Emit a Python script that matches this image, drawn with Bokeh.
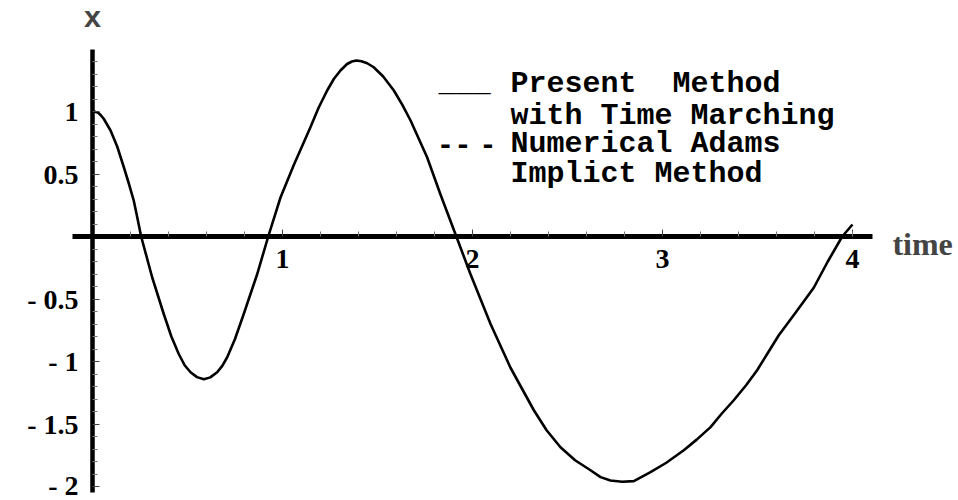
from bokeh.plotting import figure
from bokeh.models import LinearAxis, FixedTicker, Label
from bokeh.core.properties import value
from bokeh.embed import file_html
from bokeh.resources import INLINE

# Displacement x(t) of the oscillator, present method with time marching
time = [0.0, 0.015, 0.03, 0.045, 0.06, 0.095, 0.13, 0.165, 0.19, 0.217, 0.236,
        0.256, 0.314, 0.375, 0.415, 0.454, 0.485, 0.516, 0.55, 0.586, 0.62,
        0.656, 0.683, 0.709, 0.75, 0.796, 0.867, 0.925, 0.989, 1.06, 1.147,
        1.19, 1.235, 1.27, 1.305, 1.34, 1.365, 1.389, 1.415, 1.446, 1.48,
        1.53, 1.586, 1.63, 1.674, 1.761, 1.832, 1.915, 1.989, 2.095, 2.2,
        2.323, 2.39, 2.463, 2.54, 2.621, 2.674, 2.726, 2.788, 2.849, 2.937,
        3.02, 3.112, 3.18, 3.253, 3.31, 3.375, 3.44, 3.498, 3.555, 3.612,
        3.70, 3.796, 3.87, 3.946, 4.0]
x_present = [1.0, 0.997, 0.99, 0.968, 0.94, 0.848, 0.72, 0.554, 0.43, 0.288, 0.15,
             0.0, -0.326, -0.62, -0.80, -0.94, -1.03, -1.086, -1.125, -1.142, -1.127,
             -1.086, -1.035, -0.966, -0.82, -0.62, -0.30, 0.0, 0.31, 0.574, 0.874,
             1.03, 1.168, 1.26, 1.328, 1.38, 1.40, 1.408, 1.402, 1.386, 1.354,
             1.28, 1.168, 1.055, 0.928, 0.634, 0.334, 0.0, -0.30, -0.70, -1.05,
             -1.39, -1.55, -1.686, -1.79, -1.87, -1.925, -1.952, -1.962, -1.957, -1.885,
             -1.81, -1.71, -1.625, -1.525, -1.42, -1.31, -1.19, -1.07, -0.93, -0.79,
             -0.61, -0.41, -0.2, 0.0, 0.096]

# Axis ticks and labels
x_ticks = [1, 2, 3, 4]
x_tick_labels = ["1", "2", "3", "4"]
x_minor = [0.0, 0.2, 0.4, 0.6, 0.8, 1.2, 1.4, 1.6, 1.8, 2.2, 2.4, 2.6, 2.8,
           3.2, 3.4, 3.6, 3.8, 4.0]
y_ticks = [-2.0, -1.5, -1.0, -0.5, 0.5, 1.0]
y_tick_labels = ["- 2", "- 1.5", "- 1", "- 0.5", "0.5", "1"]
y_minor = [-1.9, -1.8, -1.7, -1.6, -1.4, -1.3, -1.2, -1.1, -0.9, -0.8, -0.7,
           -0.6, -0.4, -0.3, -0.2, -0.1, 0.1, 0.2, 0.3, 0.4, 0.6, 0.7, 0.8,
           0.9, 1.1, 1.2, 1.3, 1.4]

# Legend text (double space kept with a no-break space)
legend_lines = ["Present\u00a0 Method", "with Time Marching", "Numerical Adams", "Implict Method"]
legend_y = [1.224, 0.968, 0.744, 0.504]

W, H = 958, 500
X0_PX, SX = 92.0, 190.0      # pixel of t=0, pixels per unit time
Y0_PX, SY = 236.0, 125.0     # pixel of x=0, pixels per unit x

p = figure(width=W, height=H, output_backend="svg", toolbar_location=None,
           x_range=(-X0_PX / SX, (W - X0_PX) / SX),
           y_range=((Y0_PX - H) / SY, Y0_PX / SY),
           x_axis_type=None, y_axis_type=None, min_border=0)
p.outline_line_color = None
p.background_fill_color = "white"
p.border_fill_color = "white"
p.xgrid.visible = False
p.ygrid.visible = False

serif = "Liberation Serif"
mono = "Liberation Mono"

xaxis = LinearAxis(fixed_location=0, bounds=(-0.105, 4.105),
                   ticker=FixedTicker(ticks=x_ticks, minor_ticks=x_minor),
                   major_label_overrides=dict(zip(x_ticks, x_tick_labels)),
                   axis_line_width=5, axis_line_color="black",
                   major_tick_in=7, major_tick_out=0, major_tick_line_color="#444",
                   minor_tick_in=5, minor_tick_out=0, minor_tick_line_color="#777",
                   major_label_standoff=13,
                   major_label_text_font=serif, major_label_text_font_style="bold",
                   major_label_text_font_size="28px", major_label_text_color="black")
p.add_layout(xaxis, "below")

yaxis = LinearAxis(fixed_location=0, bounds=(-2.05, 1.5),
                   ticker=FixedTicker(ticks=y_ticks, minor_ticks=y_minor),
                   major_label_overrides=dict(zip(y_ticks, y_tick_labels)),
                   axis_line_width=4.5, axis_line_color="black",
                   major_tick_in=7, major_tick_out=0, major_tick_line_color="#444",
                   minor_tick_in=5, minor_tick_out=0, minor_tick_line_color="#777",
                   major_label_standoff=14,
                   major_label_text_font=serif, major_label_text_font_style="bold",
                   major_label_text_font_size="28px", major_label_text_color="black")
p.add_layout(yaxis, "left")

p.line(time, x_present, line_color="black", line_width=2.6, line_join="round")

# Axis titles
p.add_layout(Label(x=0.0, y=1.74, text="x", text_font=mono, text_font_style="bold",
                   text_font_size="30px", text_align="center", text_baseline="middle"))
p.add_layout(Label(x=4.21, y=-0.056, text="time", text_font=serif, text_font_style="bold",
                   text_font_size="32px", text_align="left", text_baseline="alphabetic"))

# Legend: line markers typed as characters, then the descriptions
p.text(x=[2.2] * len(legend_lines), y=legend_y, text=legend_lines,
       text_font=value(mono), text_font_style="bold", text_font_size="30px",
       text_align="left", text_baseline="alphabetic", text_color="black")
p.text(x=[1.821, 1.812, 2.035], y=[legend_y[0], legend_y[2], legend_y[2]], text=["___", "--", "-"],
       text_font=value(mono), text_font_style="bold", text_font_size="29px",
       text_align="left", text_baseline="alphabetic", text_color="black")

open("out.html", "w").write(file_html(p, INLINE))
